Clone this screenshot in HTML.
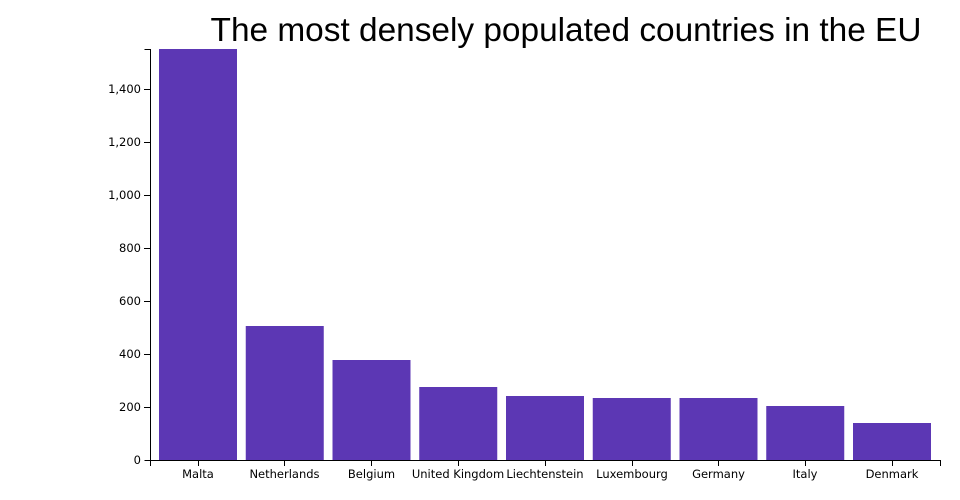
<!DOCTYPE html>
<html><head><meta charset="utf-8"><style>
body{margin:0;background:#fff;}
svg{display:block;font-family:"DejaVu Sans","Liberation Sans",sans-serif;}
</style></head><body>
<svg width="960" height="500" viewBox="0 0 960 500">
<text x="566" y="41" text-anchor="middle" font-size="33.4" fill="#000" font-family="Liberation Sans, sans-serif">The most densely populated countries in the EU</text>
<g fill="#5c37b4">
<rect x="159" y="49" width="78" height="411"/>
<rect x="245.75" y="326" width="78" height="134"/>
<rect x="332.5" y="360" width="78" height="100"/>
<rect x="419.25" y="387" width="78" height="73"/>
<rect x="506" y="396" width="78" height="64"/>
<rect x="592.75" y="398" width="78" height="62"/>
<rect x="679.5" y="398" width="78" height="62"/>
<rect x="766.25" y="406" width="78" height="54"/>
<rect x="853" y="423" width="78" height="37"/>
</g>
<g stroke="#000" stroke-width="1" fill="none">
<path d="M144.5,49.5H150.5V460.5H144.5"/>
<path d="M150.5,466V460.5H940.5V466"/>
<path d="M144,407.5h6M144,354.5h6M144,301.5h6M144,248.5h6M144,195.5h6M144,142.5h6M144,89.5h6"/>
<path d="M198.5,460v6M284.5,460v6M371.5,460v6M458.5,460v6M545.5,460v6M632.5,460v6M718.5,460v6M805.5,460v6M892.5,460v6"/>
</g>
<g font-size="11.5" fill="#000" text-anchor="end">
<text x="141" y="464">0</text><text x="141" y="411">200</text><text x="141" y="358">400</text><text x="141" y="305">600</text><text x="141" y="252">800</text><text x="141" y="199">1,000</text><text x="141" y="146">1,200</text><text x="141" y="93">1,400</text>
</g>
<g font-size="11.5" fill="#000" text-anchor="middle">
<text x="198" y="478">Malta</text><text x="284.5" y="478">Netherlands</text><text x="371.5" y="478">Belgium</text><text x="458" y="478">United Kingdom</text><text x="545" y="478">Liechtenstein</text><text x="632" y="478">Luxembourg</text><text x="718.5" y="478">Germany</text><text x="805" y="478">Italy</text><text x="892" y="478">Denmark</text>
</g>
</svg>
</body></html>
